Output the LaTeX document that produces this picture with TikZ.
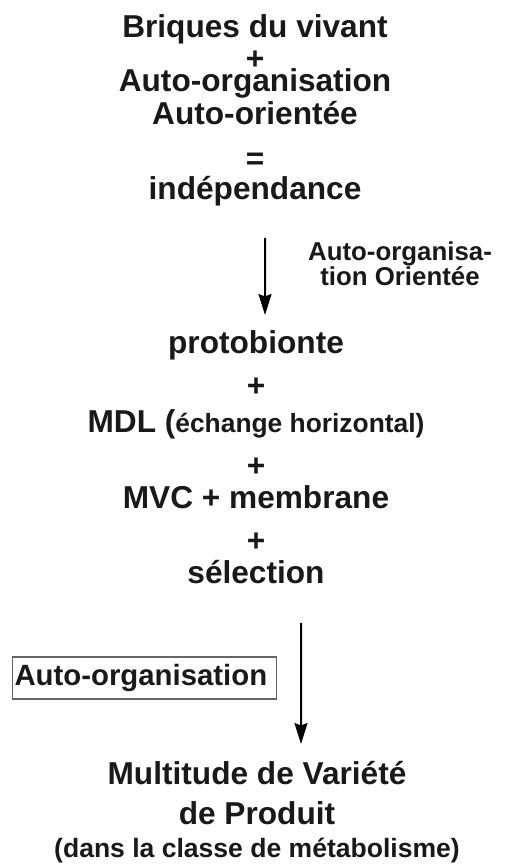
\documentclass[tikz,border=0pt]{standalone}
\usepackage{fontspec}
\setmainfont{Liberation Sans}
\usetikzlibrary{arrows.meta}

\tikzset{
	bloc/.style={align=center, inner sep=0pt, text=black!90, anchor=north},
	grand/.style={font={\bfseries\fontsize{18}{#1}\selectfont\lineskiplimit=-\maxdimen}},
	fleche/.style={line width=0.04cm, -{Stealth[length=0.42cm,width=0.26cm,inset=0.05cm]}}
}

\begin{document}
\begin{tikzpicture}
		%%%%% START %%%%%
		\useasboundingbox (0, 0) rectangle (10.24, -17.36);
		
		% premier bloc
		\node[bloc, grand=15.9pt] (briques) at (5.1, -0.28) {Briques du vivant\\[0.08cm] +\\[-0.12cm] Auto-organisation\\[0.1cm] Auto-orientée\\[0.34cm] =\\[0.06cm] indépendance};
		
		% deuxieme bloc
		\node[bloc, grand=19.9pt] (proto) at (5.12, -6.6) {protobionte\\[0.16cm] +\\[0.02cm] MDL ({\fontsize{15}{19.9}\selectfont échange horizontal)}\\[0.18cm] +\\[-0.06cm] MVC + membrane\\[0.16cm] +\\[-0.06cm] sélection};
		
		% resultat
		\node[bloc, grand=18.8pt] (produit) at (5.14, -15.22) {Multitude de Variété\\[0.14cm] de Produit\\ {\fontsize{15.1}{18.8}\selectfont (dans la classe de métabolisme)}};
		
		\node[bloc, font={\bfseries\fontsize{14.7}{14.2}\selectfont}] (orient) at (8.0, -4.83) {Auto-organisa-\\ tion Orientée};
		
		\node[draw=black!60, line width=0.6pt, anchor=west, text width=5.2cm, inner xsep=0.04cm, minimum height=0.84cm, align=left, text=black!90, font={\bfseries\fontsize{16.7}{20}\selectfont}] (autoorg) at (0.24, -13.56) {Auto-organisation};
		
		\draw[fleche] ([xshift=0.2cm, yshift=-0.62cm]briques.south) -- ([xshift=0.18cm, yshift=0.3cm]proto.north);
		\draw[fleche] ([xshift=0.9cm, yshift=-0.78cm]proto.south) -- ([xshift=0.88cm, yshift=0.34cm]produit.north);
		
		%%%%% END %%%%%
	\end{tikzpicture}
\end{document}
